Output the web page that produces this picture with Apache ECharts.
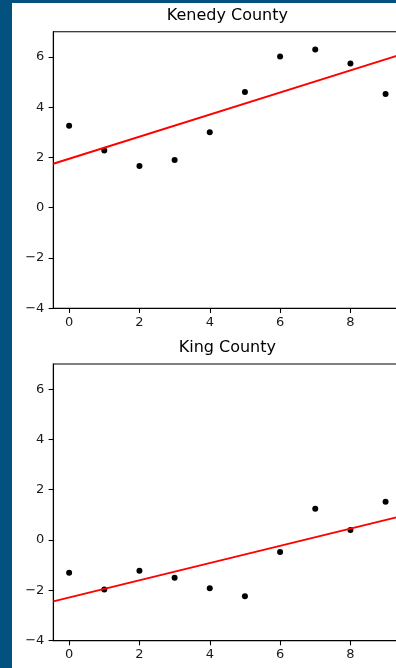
<!DOCTYPE html>
<html>
<head>
<meta charset="utf-8">
<script src="https://cdn.jsdelivr.net/npm/echarts@6/dist/echarts.min.js"></script>
<style>
  html, body { margin: 0; padding: 0; width: 396px; height: 668px; background: #02517f; overflow: hidden; }
  #chart { position: absolute; left: 12px; top: 3px; width: 392px; height: 665px; background: #ffffff; }
</style>
</head>
<body>
<div id="chart"></div>
<script>
const titles = ["Kenedy County", "King County"];
const xValues = [0, 1, 2, 3, 4, 5, 6, 7, 8, 9];
const kenedyValues = [3.26, 2.28, 1.66, 1.90, 3.00, 4.60, 6.01, 6.29, 5.74, 4.52];
const kingValues = [-1.30, -1.97, -1.22, -1.50, -1.92, -2.24, -0.48, 1.24, 0.40, 1.52];
const fitX = [-0.45, 9.45];
const kenedyFit = [1.75, 6.10];
const kingFit = [-2.44, 0.95];
const xTicks = [0, 2, 4, 6, 8];
const yTicks = [-4, -2, 0, 2, 4, 6];

const FONT = "DejaVu Sans";
const fmt = v => String(v).replace('-', '\u2212');

const gridTops = [28.7, 361];
const gridLeft = 41.3;
const gridWidth = 348.1;
const gridHeight = 276.6;

function makeX(i) {
  return {
    type: 'value', gridIndex: i, min: -0.45, max: 9.45,
    axisLine: { show: true, onZero: false, lineStyle: { color: '#000', width: 1.07 } },
    axisTick: { show: true, customValues: xTicks, length: 4.7, lineStyle: { color: '#000', width: 1.07 } },
    axisLabel: { customValues: xTicks, formatter: fmt, margin: 8, color: '#1a1a1a', fontFamily: FONT, fontSize: 13 },
    splitLine: { show: false }
  };
}
function makeY(i) {
  return {
    type: 'value', gridIndex: i, min: -4, max: 7,
    axisLine: { show: true, onZero: false, lineStyle: { color: '#000', width: 1.07 } },
    axisTick: { show: true, customValues: yTicks, length: 4.7, lineStyle: { color: '#000', width: 1.07 } },
    axisLabel: { customValues: yTicks, formatter: fmt, margin: 9, color: '#1a1a1a', fontFamily: FONT, fontSize: 13 },
    splitLine: { show: false }
  };
}

const datasets = [kenedyValues, kingValues];
const fits = [kenedyFit, kingFit];
const series = [];
datasets.forEach((vals, i) => {
  series.push({
    type: 'scatter', xAxisIndex: i, yAxisIndex: i,
    data: xValues.map((x, k) => [x, vals[k]]),
    symbolSize: 6, itemStyle: { color: '#000', opacity: 1 }, z: 2, silent: true
  });
  series.push({
    type: 'line', xAxisIndex: i, yAxisIndex: i,
    data: fitX.map((x, k) => [x, fits[i][k]]),
    showSymbol: false, symbol: 'none', clip: true,
    lineStyle: { color: '#ff0000', width: 2 }, z: 3, silent: true
  });
});

const chart = echarts.init(document.getElementById('chart'), null, { renderer: 'canvas' });
chart.setOption({
  animation: false,
  backgroundColor: '#ffffff',
  title: titles.map((t, i) => ({
    text: t, left: gridLeft + gridWidth / 2, top: gridTops[i] - 24, textAlign: 'center', padding: 0,
    textStyle: { fontFamily: FONT, fontSize: 16, fontWeight: 'normal', color: '#000' }
  })),
  grid: gridTops.map(t => ({
    left: gridLeft, top: t, width: gridWidth, height: gridHeight,
    show: true, borderColor: '#000', borderWidth: 1.07, backgroundColor: '#fff', containLabel: false
  })),
  xAxis: [makeX(0), makeX(1)],
  yAxis: [makeY(0), makeY(1)],
  series: series
});
</script>
</body>
</html>
